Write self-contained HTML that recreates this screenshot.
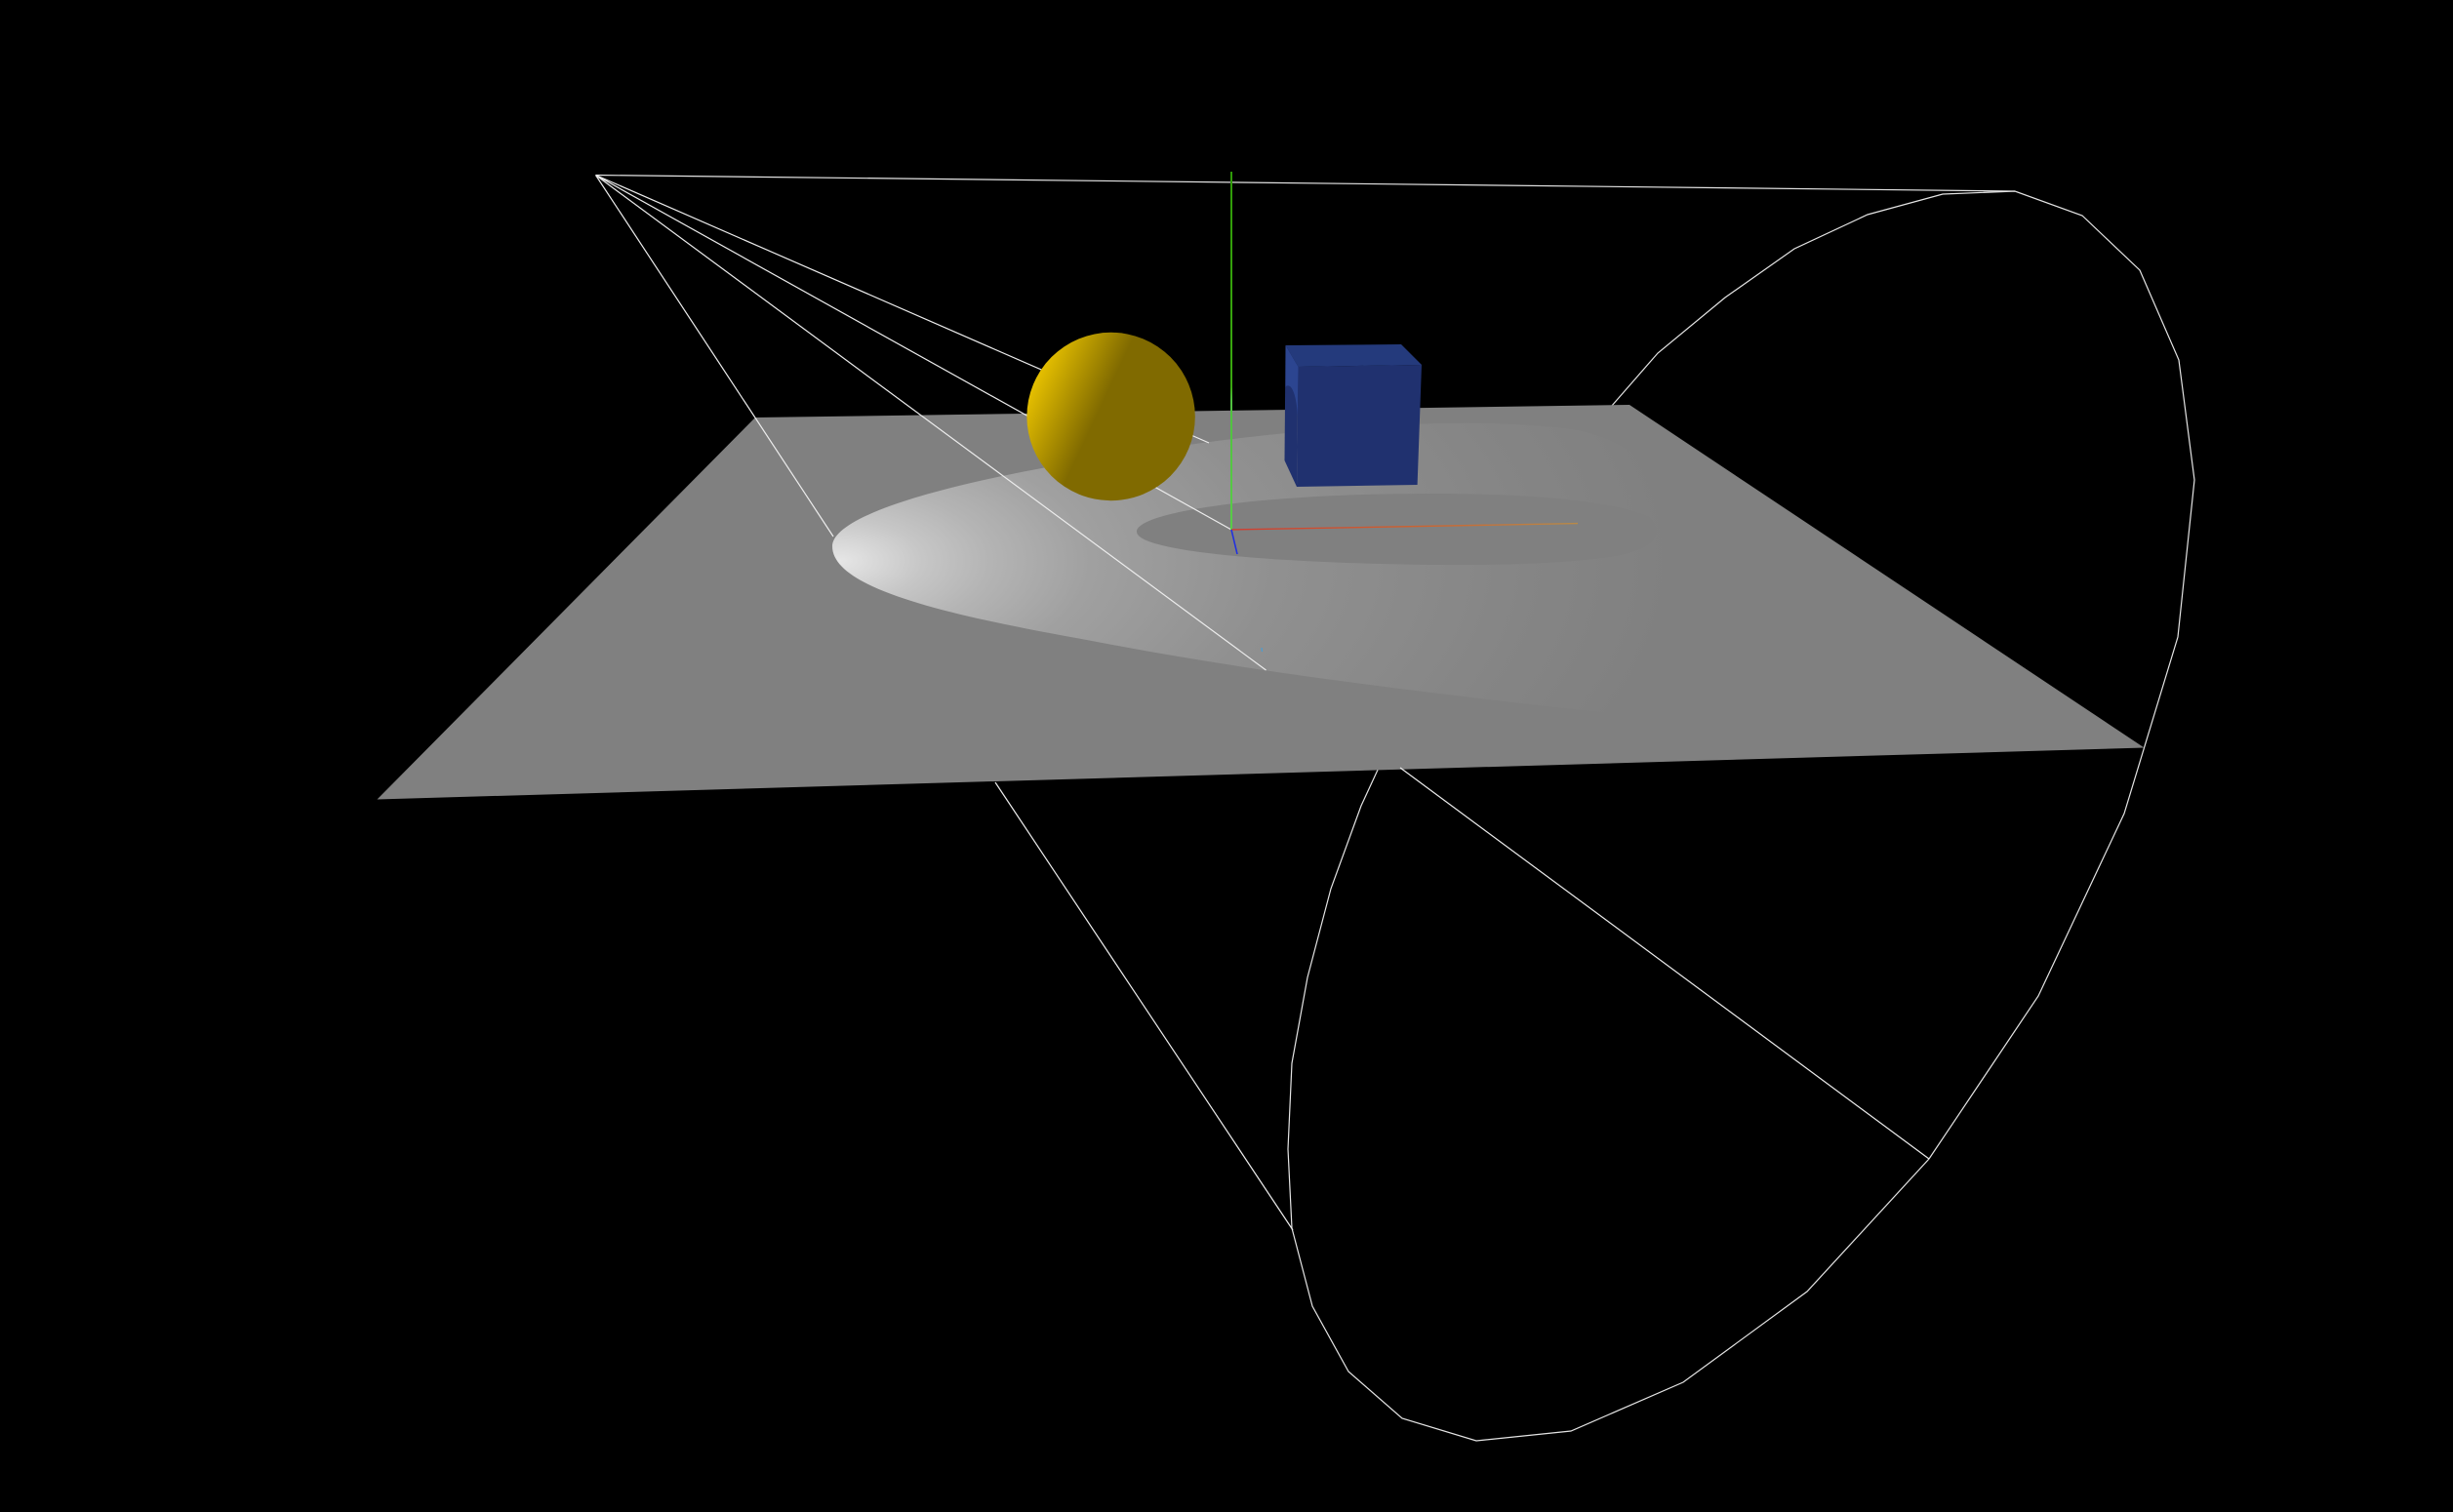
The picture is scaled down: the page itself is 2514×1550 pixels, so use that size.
<!DOCTYPE html>
<html lang="en">
<head>
<meta charset="utf-8">
<title>3D scene with spotlight</title>
<style>
html,body{margin:0;padding:0;background:#000;width:2514px;height:1550px;overflow:hidden}
svg{display:block}
</style>
</head>
<body>
<svg width="2514" height="1550" viewBox="0 0 2514 1550" xmlns="http://www.w3.org/2000/svg">
<defs>
<radialGradient id="spotGrad" gradientUnits="userSpaceOnUse" cx="860" cy="575" r="860" gradientTransform="translate(860 575) scale(1 0.5) translate(-860 -575)">
<stop offset="0" stop-color="#e6e6e6"/>
<stop offset="0.1" stop-color="#c6c6c6"/>
<stop offset="0.18" stop-color="#b4b4b4"/>
<stop offset="0.3" stop-color="#a0a0a0"/>
<stop offset="0.52" stop-color="#909090"/>
<stop offset="0.82" stop-color="#858585"/>
<stop offset="1" stop-color="#808080"/>
</radialGradient>
<linearGradient id="sphereGrad" gradientUnits="userSpaceOnUse" x1="1058" y1="395" x2="1124" y2="426">
<stop offset="0" stop-color="#e6c000"/>
<stop offset="1" stop-color="#806a00"/>
</linearGradient>
<linearGradient id="redAxisGrad" gradientUnits="userSpaceOnUse" x1="1262" y1="543" x2="1617" y2="537">
<stop offset="0" stop-color="#d03c30"/>
<stop offset="0.5" stop-color="#cc6030"/>
<stop offset="1" stop-color="#b88a48"/>
</linearGradient>
<linearGradient id="greenAxisGrad" gradientUnits="userSpaceOnUse" x1="1262" y1="176" x2="1262" y2="543">
<stop offset="0" stop-color="#2f9a08"/>
<stop offset="0.6" stop-color="#3aa810"/>
<stop offset="0.64" stop-color="#50c040"/>
<stop offset="1" stop-color="#58cc48"/>
</linearGradient>
</defs>

<rect width="2514" height="1550" fill="#000"/>

<polyline fill="none" stroke="#e4e4e4" stroke-width="1.2"
points="1651,417 1699,362 1768,305 1839,255 1914,220 1991,199 2065,196 2134,221 2193,277 2233,369 2249,492 2232,653 2177,834 2089,1021 1977,1188 1852,1324 1725,1417 1610,1467 1513,1477 1437,1454 1382,1406 1345,1339 1324,1259 1320,1178 1324,1090 1340,1002 1364,911 1395,826 1413,787"/>

<line x1="610.5" y1="179.5" x2="2065" y2="196" stroke="#e4e4e4" stroke-width="1.2"/>

<polygon points="774,428 1670,415 2197.5,766.5 386.5,819.5" fill="#808080"/>

<path fill="url(#spotGrad)"
d="M853,560 C853,530 960,490 1240,453 C1340,440 1500,425 1610,440 C1680,450 1730,500 1725,600 C1720,680 1700,735 1665,733 C1480,712 1300,692 1119,657 C980,632 853,605 853,560 Z"/>

<path fill="#808080"
d="M1165,545 C1165,525 1290,506 1467,506 C1560,506 1650,512 1690,530 C1710,550 1690,568 1633,573 C1570,580 1510,579 1467,579 C1300,577 1165,565 1165,545 Z"/>

<g stroke="#ececec" stroke-width="1.2" fill="none">
<line x1="610.5" y1="179.5" x2="854" y2="550"/>
<line x1="1020" y1="802" x2="1325" y2="1261"/>
<line x1="610.5" y1="179.5" x2="1297.5" y2="687"/>
<line x1="1435" y1="787" x2="1977" y2="1188"/>
<line x1="610.5" y1="179.5" x2="1262" y2="543"/>
<line x1="610.5" y1="179.5" x2="1239" y2="454"/>
</g>

<circle cx="1138.6" cy="427" r="86.2" fill="url(#sphereGrad)"/>

<g>
<polygon points="1317.5,354 1436,353 1457,374 1330.5,376" fill="#243a7c"/>
<polygon points="1330.5,376 1457,374 1452.6,497 1329,499" fill="#20316f"/>
<polygon points="1317.5,354 1330.5,376 1329,499 1316.5,472" fill="#20316f"/>
<path d="M1317.5,354 L1330.5,376 L1330,427 C1329,410 1326,399 1322,396 C1320,395 1318,395 1317.5,397 Z" fill="#2c4590"/>
</g>

<g fill="none">
<line x1="1262" y1="176" x2="1262" y2="543" stroke="url(#greenAxisGrad)" stroke-width="2"/>
<line x1="1262" y1="543" x2="1617" y2="536.6" stroke="url(#redAxisGrad)" stroke-width="1.4"/>
<line x1="1262" y1="543" x2="1268" y2="568" stroke="#2030e0" stroke-width="1.6"/>
<line x1="1293" y1="664" x2="1293.4" y2="668" stroke="#3aa0e0" stroke-width="1"/>
</g>
</svg>
</body>
</html>
